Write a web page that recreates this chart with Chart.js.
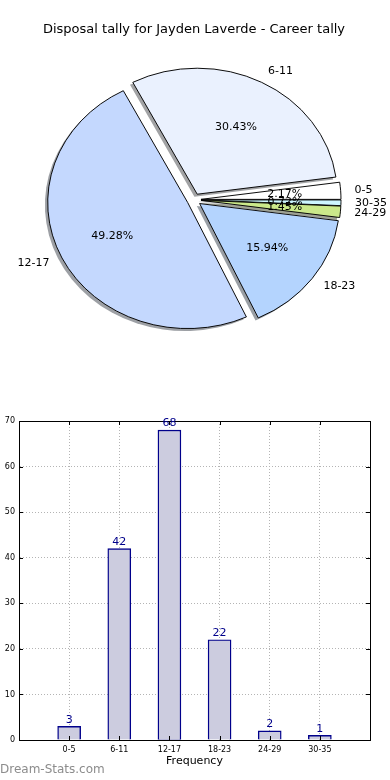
<!DOCTYPE html>
<html>
<head>
<meta charset="utf-8">
<script src="https://cdn.jsdelivr.net/npm/chart.js@4"></script>
<style>
  html, body { margin: 0; padding: 0; background: #fff; }
  #wrap { position: relative; width: 390px; height: 780px; overflow: hidden; }
  #pieChart { position: absolute; left: 0; top: 0; }
  #barChart { position: absolute; left: 0; top: 390px; }
  #mark { position: absolute; left: 0; top: 762px; font: 12px "DejaVu Sans", sans-serif; color: #8c8c8c; }
</style>
</head>
<body>
<div id="wrap">
  <canvas id="pieChart" width="390" height="390"></canvas>
  <canvas id="barChart" width="390" height="390"></canvas>
  <div id="mark">Dream-Stats.com</div>
</div>
<script>
// data
var CATEGORIES = ['0-5', '6-11', '12-17', '18-23', '24-29', '30-35'];
var FREQUENCY = [3, 42, 68, 22, 2, 1];
var TITLE = 'Disposal tally for Jayden Laverde - Career tally';
var AXIS_TITLE = 'Frequency';
var Y_MIN = 0, Y_MAX = 70, Y_STEP = 10;

// styles
var SLICE_COLORS = ['#ffffff', '#eaf1fe', '#c4d8fe', '#b4d4fe', '#cbe98a', '#cdf6ff'];
var FONT = '"DejaVu Sans", sans-serif';
var PIE_R = 140;      // radius in px
var EXPLODE = 7;      // wedge shift
var SQUASH = 0.9;     // matplotlib pie is an ellipse here
var TOTAL = FREQUENCY.reduce(function (a, b) { return a + b; }, 0);

// matplotlib goes counter clockwise from 3 o'clock, chart.js clockwise -> reverse
var pieLabels = CATEGORIES.slice().reverse();
var pieValues = FREQUENCY.slice().reverse();
var pieColors = SLICE_COLORS.slice().reverse();

function shadowColor(hex) {
  var r = parseInt(hex.substr(1, 2), 16), g = parseInt(hex.substr(3, 2), 16), b = parseInt(hex.substr(5, 2), 16);
  return 'rgba(' + Math.round(r * 0.3) + ',' + Math.round(g * 0.3) + ',' + Math.round(b * 0.3) + ',0.5)';
}

var explodePlugin = {
  id: 'explode',
  beforeDatasetsDraw: function (chart) {
    var ctx = chart.ctx;
    var arcs = chart.getDatasetMeta(0).data;
    var cx = arcs[0].x, cy = arcs[0].y;
    ctx.save();
    ctx.translate(cx, cy);
    ctx.scale(1, SQUASH);
    ctx.translate(-cx, -cy);
    // shadows first, under every wedge
    arcs.forEach(function (arc, k) {
      var m = (arc.startAngle + arc.endAngle) / 2;
      var sx = cx + Math.cos(m) * EXPLODE - 0.02 * arc.outerRadius;
      var sy = cy + Math.sin(m) * EXPLODE + 0.02 * arc.outerRadius;
      ctx.beginPath();
      ctx.moveTo(sx, sy);
      ctx.arc(sx, sy, arc.outerRadius, arc.startAngle, arc.endAngle);
      ctx.closePath();
      ctx.fillStyle = shadowColor(pieColors[k]);
      ctx.fill();
    });
    arcs.forEach(function (arc) {
      var m = (arc.startAngle + arc.endAngle) / 2;
      ctx.save();
      ctx.translate(Math.cos(m) * EXPLODE, Math.sin(m) * EXPLODE);
      arc.draw(ctx);
      ctx.restore();
    });
    ctx.restore();
    return false;
  },
  afterDraw: function (chart) {
    var ctx = chart.ctx;
    var arcs = chart.getDatasetMeta(0).data;
    ctx.save();
    ctx.font = '11px ' + FONT;
    ctx.fillStyle = '#000';
    ctx.textBaseline = 'middle';
    arcs.forEach(function (arc, k) {
      var cx = arc.x, cy = arc.y;
      var m = (arc.startAngle + arc.endAngle) / 2;
      var ex = cx + Math.cos(m) * EXPLODE, ey = cy + Math.sin(m) * EXPLODE;
      var lx = ex + Math.cos(m) * arc.outerRadius * 1.1;
      var ly = cy + (ey + Math.sin(m) * arc.outerRadius * 1.1 - cy) * SQUASH;
      ctx.textAlign = Math.cos(m) > 0 ? 'left' : 'right';
      ctx.fillText(pieLabels[k], lx, ly);
      var px = ex + Math.cos(m) * arc.outerRadius * 0.6;
      var py = cy + (ey + Math.sin(m) * arc.outerRadius * 0.6 - cy) * SQUASH;
      ctx.textAlign = 'center';
      ctx.fillText((pieValues[k] / TOTAL * 100).toFixed(2) + '%', px, py);
    });
    ctx.restore();
  }
};

var pieChart = new Chart(document.getElementById('pieChart'), {
  type: 'pie',
  data: {
    labels: pieLabels,
    datasets: [{
      data: pieValues,
      backgroundColor: pieColors,
      borderColor: '#000',
      borderWidth: 1,
      radius: PIE_R
    }]
  },
  options: {
    responsive: false,
    animation: false,
    events: [],
    rotation: 90,
    layout: { padding: { top: 0, right: 2, bottom: 28, left: 0 } },
    plugins: {
      legend: { display: false },
      tooltip: { enabled: false },
      title: {
        display: true,
        text: TITLE,
        color: '#000',
        font: { family: FONT, size: 13, weight: 'normal' },
        padding: { top: 22, bottom: 0 }
      }
    }
  },
  plugins: [explodePlugin]
});

// bar chart: labels over bars, box on top/right, inward ticks
var barExtras = {
  id: 'barExtras',
  afterDraw: function (chart) {
    var ctx = chart.ctx;
    var a = chart.chartArea;
    var xs = chart.scales.x, ys = chart.scales.y;
    ctx.save();
    ctx.strokeStyle = '#000';
    ctx.lineWidth = 1;
    ctx.strokeRect(Math.round(a.left) + 0.5, Math.round(a.top) + 0.5, Math.round(a.right - a.left), Math.round(a.bottom - a.top));
    ctx.beginPath();
    CATEGORIES.forEach(function (c, i) {
      var x = Math.round(xs.getPixelForValue(i)) + 0.5;
      ctx.moveTo(x, a.bottom); ctx.lineTo(x, a.bottom - 4);
      ctx.moveTo(x, a.top); ctx.lineTo(x, a.top + 4);
    });
    for (var v = Y_MIN; v <= Y_MAX; v += Y_STEP) {
      var y = Math.round(ys.getPixelForValue(v)) + 0.5;
      ctx.moveTo(a.left, y); ctx.lineTo(a.left + 4, y);
      ctx.moveTo(a.right, y); ctx.lineTo(a.right - 4, y);
    }
    ctx.stroke();
    ctx.font = '11px ' + FONT;
    ctx.fillStyle = '#00008b';
    ctx.textAlign = 'center';
    ctx.textBaseline = 'bottom';
    chart.getDatasetMeta(0).data.forEach(function (bar, i) {
      ctx.fillText(String(FREQUENCY[i]), bar.x, bar.y - 1);
    });
    ctx.restore();
  }
};

var gridStyle = { color: '#b4b4b4', drawTicks: false, offset: false };
var borderStyle = { display: true, color: '#000', width: 1, dash: [1, 2] };

var barChart = new Chart(document.getElementById('barChart'), {
  type: 'bar',
  data: {
    datasets: [{
      data: CATEGORIES.map(function (c, i) { return { x: i, y: FREQUENCY[i] }; }),
      backgroundColor: '#ccccdf',
      borderColor: '#00008b',
      borderWidth: 1.4,
      barThickness: 23
    }]
  },
  options: {
    responsive: false,
    animation: false,
    events: [],
    layout: { padding: { top: 31, right: 20, bottom: 0, left: 0 } },
    plugins: { legend: { display: false }, tooltip: { enabled: false } },
    scales: {
      x: {
        type: 'linear',
        offset: false,
        min: -1,
        max: 6,
        afterFit: function (s) { s.height = 40; },
        ticks: {
          stepSize: 1,
          autoSkip: false,
          maxRotation: 0,
          padding: 5,
          color: '#000',
          font: { family: FONT, size: 8 },
          callback: function (v) { return CATEGORIES[v] || ''; }
        },
        grid: gridStyle,
        border: borderStyle,
        title: {
          display: true,
          text: AXIS_TITLE,
          color: '#000',
          font: { family: FONT, size: 11 },
          padding: { top: 0, bottom: 12 }
        }
      },
      y: {
        min: Y_MIN,
        max: Y_MAX,
        afterFit: function (s) { s.width = 19; },
        ticks: { stepSize: Y_STEP, padding: 4, color: '#000', font: { family: FONT, size: 8 } },
        grid: gridStyle,
        border: borderStyle
      }
    }
  },
  plugins: [barExtras]
});
</script>
</body>
</html>
